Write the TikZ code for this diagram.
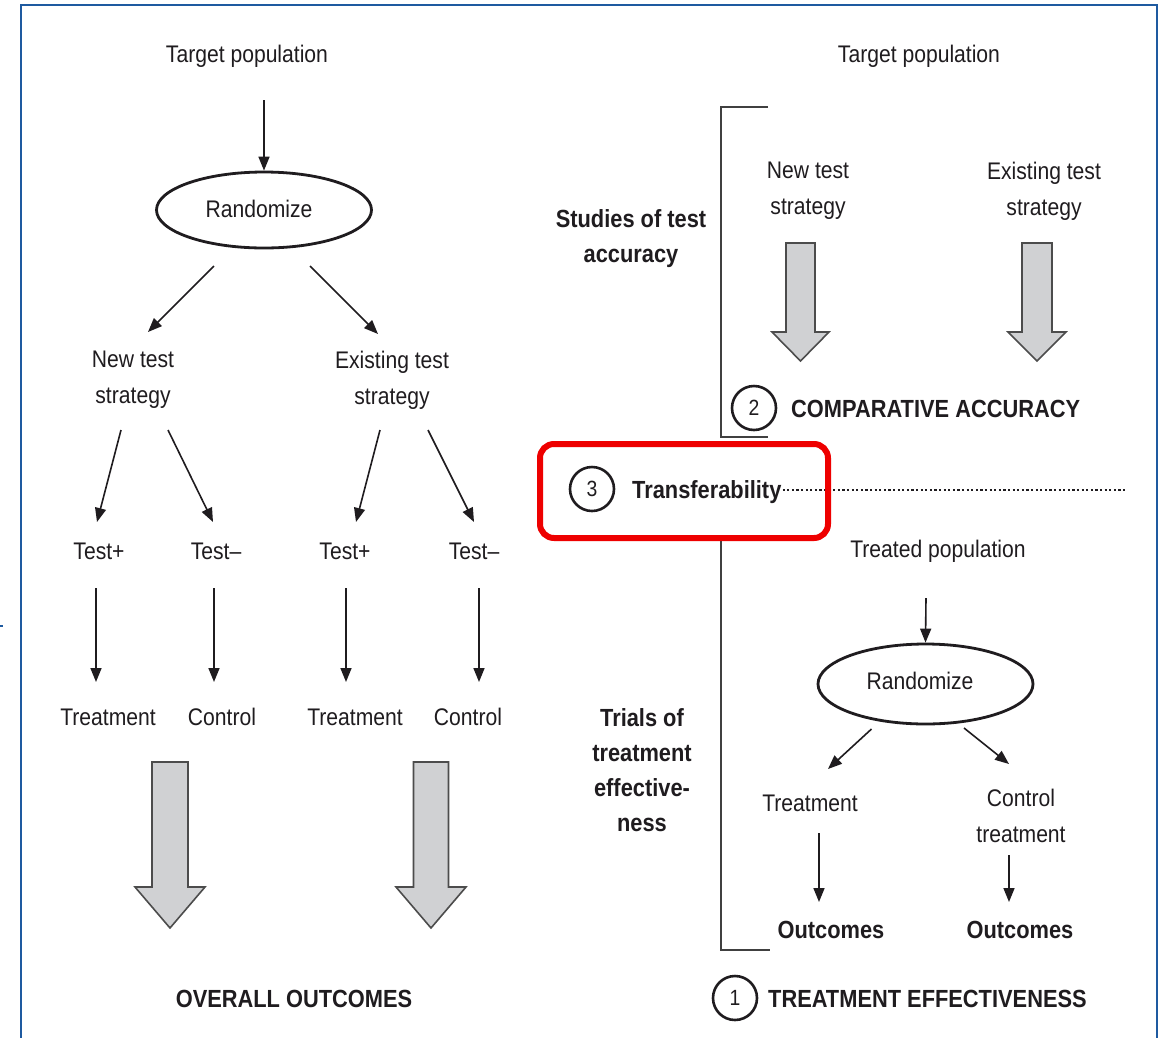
\documentclass[tikz,border=0pt]{standalone}
\usepackage{fontspec}
\setmainfont{Liberation Sans}[FakeStretch=0.88]
\usetikzlibrary{arrows.meta,shapes.geometric,calc}

\definecolor{ink}{rgb}{0.12,0.11,0.12}
\definecolor{framecol}{RGB}{30,90,160}
\definecolor{fatgrey}{RGB}{208,209,211}
\definecolor{alertred}{RGB}{238,0,0}

\newcommand\fatarrow[6]{% centre x, top, head start, tip, half shaft, half head
  \draw[fat] (#1-#5,#2) -- (#1+#5,#2) -- (#1+#5,#3) -- (#1+#6,#3) -- (#1,#4)
    -- (#1-#6,#3) -- (#1-#5,#3) -- cycle;}

\begin{document}
\begin{tikzpicture}[x=1pt,y=-1pt,
  lbl/.style={inner sep=0pt,text=ink,font=\fontsize{24}{36}\selectfont,align=center},
  blbl/.style={lbl,font=\fontsize{24.8}{35}\selectfont\bfseries},
  arr/.style={draw=ink,line width=1.6pt,-{Triangle[length=14pt,width=11pt]}},
  randbox/.style={ellipse,draw=ink,line width=2.8pt,minimum width=215pt,minimum height=76pt,inner sep=0pt},
  numcirc/.style={circle,draw=ink,line width=2.6pt,minimum size=44pt,inner sep=0pt,text=ink,font=\fontsize{22}{24}\selectfont},
  brk/.style={draw=black!75,line width=1.8pt},
  fat/.style={fill=fatgrey,draw=black!70,line width=1.6pt,line join=miter}]

\useasboundingbox (0,0) rectangle (1160,1037);
\fill[white] (0,0) rectangle (1160,1037);

% outer frame
\draw[framecol,line width=2pt] (21,5) rectangle (1157,1080);
\draw[framecol,line width=2pt] (0,626) -- (3,626);

% ---------- left panel: randomised comparison of test strategies ----------
\node[lbl] (tpL) at (247,56) {Target population};
\node[randbox] (randL) at (264,210) {};
\node[lbl] at (259,209) {Randomize};
\node[lbl] (ntsL) at (133,380) {New test\\strategy};
\node[lbl] (etsL) at (392,380) {Existing test\\strategy};
\node[lbl] (tp1) at (99,551) {Test+};
\node[lbl] (tm1) at (216,551) {Test–};
\node[lbl] (tp2) at (345,551) {Test+};
\node[lbl] (tm2) at (474,551) {Test–};
\node[lbl] (tr1) at (108,717) {Treatment};
\node[lbl] (co1) at (222,717) {Control};
\node[lbl] (tr2) at (355,717) {Treatment};
\node[lbl] (co2) at (468,717) {Control};
\node[blbl] (overall) at (294,999) {OVERALL OUTCOMES};

\draw[arr] ($(randL)+(0,-110)$) -- (randL.north);
\draw[arr] ($(randL)+(-50,56)$) -- ($(ntsL)+(15,-48)$);
\draw[arr] ($(randL)+(46,56)$) -- ($(etsL)+(-14,-46)$);
\draw[arr] ($(ntsL)+(-12,50)$) -- ($(tp1)+(-2,-29)$);
\draw[arr] ($(ntsL)+(35,50)$) -- ($(tm1)+(-3,-29)$);
\draw[arr] ($(etsL)+(-12,50)$) -- ($(tp2)+(11,-29)$);
\draw[arr] ($(etsL)+(36,50)$) -- ($(tm2)+(0,-29)$);
\draw[arr] ($(tp1)+(-3,37)$) -- ($(tr1)+(-12,-35)$);
\draw[arr] ($(tm1)+(-2,37)$) -- ($(co1)+(-8,-35)$);
\draw[arr] ($(tp2)+(1,37)$) -- ($(tr2)+(-9,-35)$);
\draw[arr] ($(tm2)+(5,37)$) -- ($(co2)+(11,-35)$);

\fatarrow{170}{762}{887}{928}{18}{35}
\fatarrow{431}{762}{887}{928}{17.5}{35}

% ---------- right panel: linked evidence ----------
\node[lbl] (tpR) at (919,56) {Target population};
\node[blbl] (studies) at (631,239) {Studies of test\\accuracy};
\node[lbl] (ntsR) at (808,191) {New test\\strategy};
\node[lbl] (etsR) at (1044,191) {Existing test\\strategy};
\fatarrow{800.5}{243}{332}{361}{14.5}{28.5}
\fatarrow{1037}{243}{332}{361}{15}{29}

% accuracy bracket
\draw[brk] (768,107) -- (721,107) -- (721,437) -- (768,437);
\node[numcirc] (c2) at (754,408) {2};
\node[blbl,anchor=west] (compacc) at (791,409) {COMPARATIVE ACCURACY};

% effectiveness bracket
\draw[brk] (768,540) -- (721,540) -- (721,950) -- (770,950);

% transferability link
\node[numcirc] (c3) at (592,489) {3};
\node[blbl,anchor=west] (transf) at (632,492) {Transferability};
\coordinate (dotend) at (1127,490);
\draw[ink,line width=2.4pt,dash pattern=on 2.2pt off 2.4pt] ($(transf.east)+(1,-2)$) -- (dotend);
\draw[alertred,line width=6pt,rounded corners=14pt] (540,444) rectangle (828,538);

\node[lbl] (treated) at (938,551) {Treated population};
\node[randbox,minimum height=80pt] (randR) at (925.5,684) {};
\node[lbl] at (920,681) {Randomize};
\node[lbl] (trR) at (810,803) {Treatment};
\node[lbl] (ctR) at (1021,816) {Control\\treatment};
\node[blbl] (oc1) at (831,930) {Outcomes};
\node[blbl] (oc2) at (1020,930) {Outcomes};
\node[blbl] (trials) at (642,770) {Trials of\\treatment\\effective-\\ness};

\draw[arr] ($(randR)+(0.5,-86)$) -- (randR.north);
\draw[arr] ($(randR)+(-54,45)$) -- ($(trR)+(18,-34)$);
\draw[arr] ($(randR)+(38.5,44)$) -- ($(ctR)+(-12,-52)$);
\draw[arr] ($(trR)+(9,30)$) -- ($(oc1)+(-12,-28)$);
\draw[arr] ($(ctR)+(-12,39)$) -- ($(oc2)+(-11,-28)$);

\node[numcirc] (c1) at (735,998) {1};
\node[blbl,anchor=west] (treff) at (768,999) {TREATMENT EFFECTIVENESS};
\end{tikzpicture}
\end{document}
